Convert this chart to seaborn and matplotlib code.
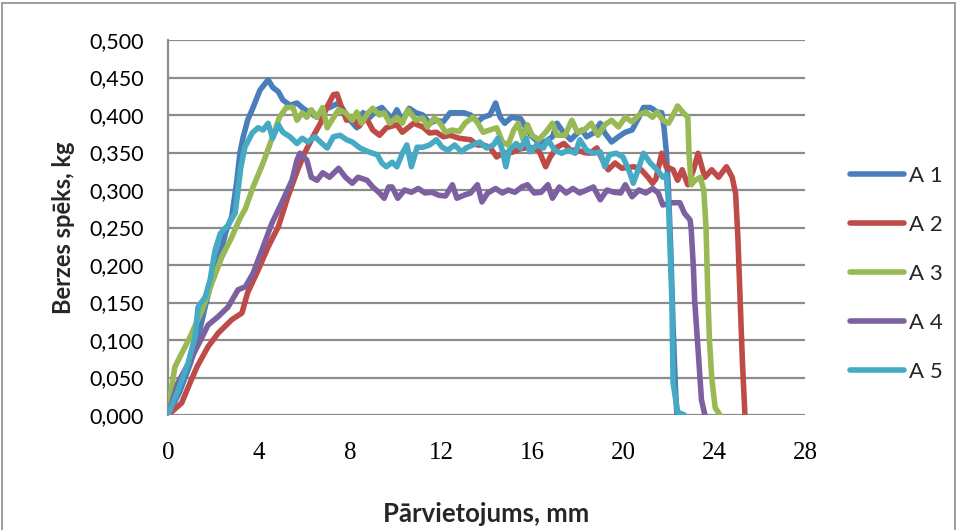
import matplotlib
matplotlib.use("Agg")
import matplotlib.pyplot as plt
import seaborn as sns
import pandas as pd
from matplotlib.patches import Rectangle

# ---------------- data ----------------
a1_x = [0, 0.5, 1.0, 1.3, 1.6, 2.0, 2.37, 2.6, 2.8, 3.03, 3.16, 3.3, 3.5, 3.74, 4.04, 4.4, 4.6,
        4.85, 5.05, 5.36, 5.67, 5.93, 6.24, 6.55, 6.8, 7.1, 7.5, 7.75, 8.0, 8.3, 8.57, 8.88, 9.19,
        9.4, 9.6, 9.85, 10.06, 10.3, 10.6, 10.9, 11.2, 11.5, 11.8, 12.1, 12.4, 12.7, 13.0, 13.3,
        13.6, 13.85, 14.15, 14.4, 14.6, 14.8, 15.1, 15.5, 15.8, 16.0, 16.35, 16.6, 16.9, 17.1,
        17.4, 17.7, 18.0, 18.2, 18.4, 18.7, 19.0, 19.2, 19.5, 19.8, 20.1, 20.4, 20.7, 20.9, 21.2,
        21.5, 21.7, 21.8, 21.9, 22.0, 22.1, 22.2, 22.3, 22.37]
a1_y = [0, 0.03, 0.07, 0.10, 0.14, 0.19, 0.224, 0.25, 0.264, 0.313, 0.349, 0.37, 0.393, 0.41,
        0.433, 0.447, 0.437, 0.431, 0.42, 0.413, 0.416, 0.409, 0.403, 0.397, 0.407, 0.41, 0.416,
        0.405, 0.393, 0.383, 0.403, 0.397, 0.407, 0.41, 0.403, 0.395, 0.407, 0.393, 0.409, 0.403,
        0.40, 0.389, 0.393, 0.391, 0.403, 0.403, 0.403, 0.40, 0.391, 0.397, 0.40, 0.416, 0.397,
        0.389, 0.397, 0.395, 0.38, 0.371, 0.362, 0.365, 0.371, 0.389, 0.376, 0.367, 0.376, 0.38,
        0.371, 0.376, 0.389, 0.376, 0.364, 0.371, 0.377, 0.38, 0.397, 0.41, 0.41, 0.404, 0.403,
        0.384, 0.353, 0.30, 0.22, 0.12, 0.04, 0.0]

a2_x = [0, 0.6, 0.97, 1.27, 1.76, 2.2, 2.8, 3.25, 3.5, 3.96, 4.4, 4.85, 5.27, 5.7, 6.0, 6.37,
        6.7, 6.98, 7.27, 7.43, 7.63, 7.85, 8.07, 8.4, 8.7, 9.0, 9.3, 9.6, 10.06, 10.3, 10.8,
        11.2, 11.5, 11.8, 12.1, 12.4, 12.8, 13.3, 13.6, 13.85, 14.15, 14.45, 14.7, 15.1, 15.5,
        15.9, 16.3, 16.6, 16.8, 17.1, 17.4, 17.7, 18.0, 18.3, 18.55, 18.85, 19.1, 19.35, 19.65,
        19.95, 20.2, 20.5, 20.8, 21.1, 21.3, 21.45, 21.7, 21.9, 22.2, 22.4, 22.6, 22.85, 23.1,
        23.3, 23.5, 23.6, 23.9, 24.2, 24.55, 24.8, 24.95, 25.05, 25.15, 25.25, 25.36]
a2_y = [0, 0.016, 0.043, 0.064, 0.091, 0.109, 0.127, 0.136, 0.163, 0.193, 0.224, 0.251, 0.291,
        0.327, 0.349, 0.371, 0.389, 0.41, 0.427, 0.428, 0.41, 0.393, 0.397, 0.385, 0.397, 0.38,
        0.373, 0.383, 0.387, 0.377, 0.389, 0.384, 0.376, 0.377, 0.371, 0.373, 0.369, 0.367,
        0.36, 0.36, 0.357, 0.344, 0.349, 0.35, 0.355, 0.357, 0.353, 0.331, 0.344, 0.357, 0.362,
        0.353, 0.353, 0.35, 0.349, 0.356, 0.34, 0.327, 0.336, 0.329, 0.33, 0.331, 0.327, 0.317,
        0.309, 0.315, 0.349, 0.331, 0.327, 0.313, 0.327, 0.307, 0.327, 0.349, 0.327, 0.317,
        0.327, 0.317, 0.331, 0.317, 0.295, 0.237, 0.153, 0.07, 0.0]

a3_x = [0, 0.15, 0.3, 0.6, 0.97, 1.5, 1.93, 2.37, 2.8, 3.16, 3.4, 3.74, 4.18, 4.6, 4.9, 5.2,
        5.5, 5.67, 5.9, 6.1, 6.3, 6.55, 6.8, 7.0, 7.2, 7.5, 7.8, 8.1, 8.3, 8.5, 8.8, 9.0, 9.3,
        9.5, 9.75, 10.06, 10.3, 10.55, 10.9, 11.2, 11.4, 11.7, 11.96, 12.2, 12.5, 12.8, 13.05,
        13.4, 13.6, 13.85, 14.15, 14.45, 14.7, 14.95, 15.2, 15.4, 15.6, 15.8, 16.0, 16.3, 16.6,
        16.9, 17.1, 17.45, 17.75, 18.0, 18.3, 18.6, 18.9, 19.2, 19.5, 19.8, 20.1, 20.4, 20.7,
        21.0, 21.3, 21.5, 21.75, 22.0, 22.2, 22.4, 22.65, 22.85, 22.9, 23.0, 23.17, 23.4, 23.55,
        23.65, 23.72, 23.8, 23.9, 24.05, 24.26]
a3_y = [0, 0.035, 0.064, 0.082, 0.104, 0.14, 0.176, 0.211, 0.237, 0.262, 0.275, 0.304, 0.336,
        0.371, 0.397, 0.41, 0.41, 0.393, 0.403, 0.397, 0.407, 0.397, 0.41, 0.383, 0.393, 0.407,
        0.403, 0.393, 0.404, 0.389, 0.403, 0.409, 0.40, 0.403, 0.389, 0.397, 0.389, 0.407, 0.393,
        0.396, 0.384, 0.396, 0.389, 0.377, 0.38, 0.378, 0.389, 0.397, 0.39, 0.377, 0.38, 0.383,
        0.364, 0.36, 0.38, 0.389, 0.368, 0.387, 0.373, 0.367, 0.377, 0.389, 0.373, 0.373, 0.393,
        0.377, 0.38, 0.389, 0.373, 0.387, 0.393, 0.384, 0.397, 0.391, 0.40, 0.404, 0.397, 0.404,
        0.393, 0.389, 0.40, 0.412, 0.403, 0.397, 0.349, 0.307, 0.313, 0.317, 0.30, 0.25, 0.17,
        0.10, 0.05, 0.01, 0.0]

a4_x = [0, 0.44, 1.05, 1.5, 1.76, 2.2, 2.64, 3.08, 3.4, 3.74, 4.13, 4.57, 5.0, 5.45, 5.67, 5.8,
        6.1, 6.3, 6.55, 6.8, 7.1, 7.5, 7.8, 8.1, 8.35, 8.75, 9.0, 9.3, 9.5, 9.7, 9.85, 10.1,
        10.4, 10.7, 11.0, 11.3, 11.6, 11.9, 12.2, 12.5, 12.7, 13.0, 13.3, 13.6, 13.8, 14.05,
        14.4, 14.7, 14.95, 15.25, 15.55, 15.8, 16.1, 16.4, 16.7, 16.9, 17.2, 17.5, 17.8, 18.1,
        18.4, 18.7, 19.0, 19.3, 19.6, 19.9, 20.1, 20.4, 20.7, 21.0, 21.3, 21.55, 21.75, 22.15,
        22.5, 22.7, 22.95, 23.0, 23.1, 23.15, 23.3, 23.45, 23.6]
a4_y = [0, 0.043, 0.077, 0.104, 0.12, 0.131, 0.144, 0.167, 0.171, 0.189, 0.22, 0.256, 0.283,
        0.313, 0.34, 0.349, 0.34, 0.317, 0.313, 0.323, 0.317, 0.329, 0.317, 0.309, 0.317, 0.313,
        0.304, 0.296, 0.289, 0.304, 0.304, 0.289, 0.30, 0.297, 0.302, 0.296, 0.297, 0.293,
        0.292, 0.307, 0.289, 0.293, 0.296, 0.307, 0.284, 0.296, 0.302, 0.296, 0.30, 0.297,
        0.304, 0.307, 0.296, 0.297, 0.307, 0.289, 0.304, 0.296, 0.302, 0.296, 0.30, 0.304,
        0.287, 0.30, 0.297, 0.296, 0.307, 0.291, 0.30, 0.296, 0.302, 0.296, 0.28, 0.283, 0.283,
        0.269, 0.26, 0.247, 0.193, 0.153, 0.087, 0.02, 0.0]

a5_x = [0, 0.44, 0.88, 1.19, 1.32, 1.63, 1.85, 2.07, 2.3, 2.64, 2.95, 3.08, 3.2, 3.38, 3.7,
        3.96, 4.18, 4.4, 4.6, 4.85, 5.05, 5.36, 5.67, 5.9, 6.15, 6.46, 6.77, 7.0, 7.27, 7.56,
        7.85, 8.1, 8.44, 8.8, 9.2, 9.4, 9.6, 9.85, 10.06, 10.3, 10.5, 10.7, 10.95, 11.2, 11.5,
        11.8, 12.05, 12.3, 12.6, 12.9, 13.1, 13.4, 13.7, 14.0, 14.3, 14.5, 14.7, 14.85, 15.0,
        15.3, 15.5, 15.75, 15.9, 16.2, 16.5, 16.7, 17.0, 17.3, 17.6, 17.9, 18.1, 18.4, 18.7,
        19.0, 19.2, 19.4, 19.7, 20.0, 20.3, 20.45, 20.7, 20.9, 21.2, 21.5, 21.75, 21.9, 22.0,
        22.07, 22.15, 22.2, 22.4, 22.7]
a5_y = [0, 0.033, 0.069, 0.104, 0.144, 0.157, 0.18, 0.22, 0.242, 0.253, 0.269, 0.30, 0.33,
        0.357, 0.376, 0.383, 0.38, 0.389, 0.369, 0.387, 0.377, 0.371, 0.362, 0.369, 0.364,
        0.371, 0.362, 0.356, 0.371, 0.373, 0.367, 0.364, 0.356, 0.351, 0.347, 0.336, 0.331,
        0.337, 0.331, 0.349, 0.36, 0.331, 0.357, 0.357, 0.36, 0.367, 0.357, 0.353, 0.36, 0.351,
        0.356, 0.36, 0.364, 0.356, 0.36, 0.369, 0.353, 0.331, 0.353, 0.362, 0.356, 0.369, 0.351,
        0.36, 0.356, 0.367, 0.353, 0.349, 0.353, 0.349, 0.367, 0.353, 0.349, 0.351, 0.331,
        0.347, 0.349, 0.344, 0.323, 0.309, 0.33, 0.349, 0.336, 0.327, 0.317, 0.32, 0.283, 0.22,
        0.153, 0.043, 0.004, 0.0]

series_names = ["A 1", "A 2", "A 3", "A 4", "A 5"]
series_colors = ["#4A7EBB", "#BE4B48", "#98B954", "#7D60A0", "#46AAC5"]
x_ticks = [0, 4, 8, 12, 16, 20, 24, 28]
y_ticks = [0.0, 0.05, 0.10, 0.15, 0.20, 0.25, 0.30, 0.35, 0.40, 0.45, 0.50]
x_title = "Pārvietojums, mm"
y_title = "Berzes spēks, kg"

frames = []
for name, xs, ys in zip(series_names, [a1_x, a2_x, a3_x, a4_x, a5_x],
                        [a1_y, a2_y, a3_y, a4_y, a5_y]):
    frames.append(pd.DataFrame({"x": xs, "y": ys, "series": name}))
df = pd.concat(frames, ignore_index=True)

# ---------------- figure ----------------
sns.set_theme(style="white")
plt.rcParams["font.family"] = ["Lato", "DejaVu Sans"]

fig = plt.figure(figsize=(9.57, 5.30), dpi=100)
ax = fig.add_axes([168 / 957, 1 - 415 / 530, (805 - 168) / 957, (415 - 40) / 530])

grid_c = "#8C8C8C"
for yv in y_ticks:
    ax.axhline(yv, color=grid_c, lw=1.6, zorder=1)

sns.lineplot(data=df, x="x", y="y", hue="series", units="series", estimator=None,
             sort=False, palette=series_colors, hue_order=series_names,
             linewidth=4.0, ax=ax, zorder=3, legend=False)
for ln in ax.get_lines():
    if len(ln.get_xdata()) > 2:
        ln.set_solid_joinstyle("round")
        ln.set_solid_capstyle("round")

ax.set_xlim(0, 28)
ax.set_ylim(0, 0.5)
ax.set_xticks(x_ticks)
ax.set_xticklabels([str(v) for v in x_ticks], fontfamily="Liberation Serif", fontsize=18)
ax.set_yticks(y_ticks)
ax.set_yticklabels([f"{v:.3f}".replace(".", ",") for v in y_ticks], fontsize=15.5)

for s in ["top", "right", "bottom"]:
    ax.spines[s].set_visible(False)
ax.spines["left"].set_color(grid_c)
ax.spines["left"].set_linewidth(1.6)
ax.tick_params(axis="both", which="both", direction="out", color=grid_c, width=1.6,
               labelcolor="black")
ax.tick_params(axis="x", length=6.5, pad=13)
ax.tick_params(axis="y", length=9.5, pad=8)

ax.set_xlabel(x_title, fontsize=18.5, fontweight="bold", labelpad=27)
ax.set_ylabel(y_title, fontsize=17, fontweight="bold", labelpad=10)

# legend
handles = [plt.Line2D([], [], color=c, lw=4.0, solid_capstyle="round") for c in series_colors]
fig.legend(handles, series_names, loc="center left", bbox_to_anchor=(850 / 957, 1 - 274 / 530),
           frameon=False, fontsize=16, handlelength=2.45, handletextpad=0.2,
           labelspacing=1.3, borderpad=0, borderaxespad=0)

# outer chart border
fig.patches.append(Rectangle((0.002, -0.01), 0.996, 1.005, transform=fig.transFigure,
                             fill=False, edgecolor="#8C8C8C", lw=1.2))

fig.savefig("out.png", dpi=100)
